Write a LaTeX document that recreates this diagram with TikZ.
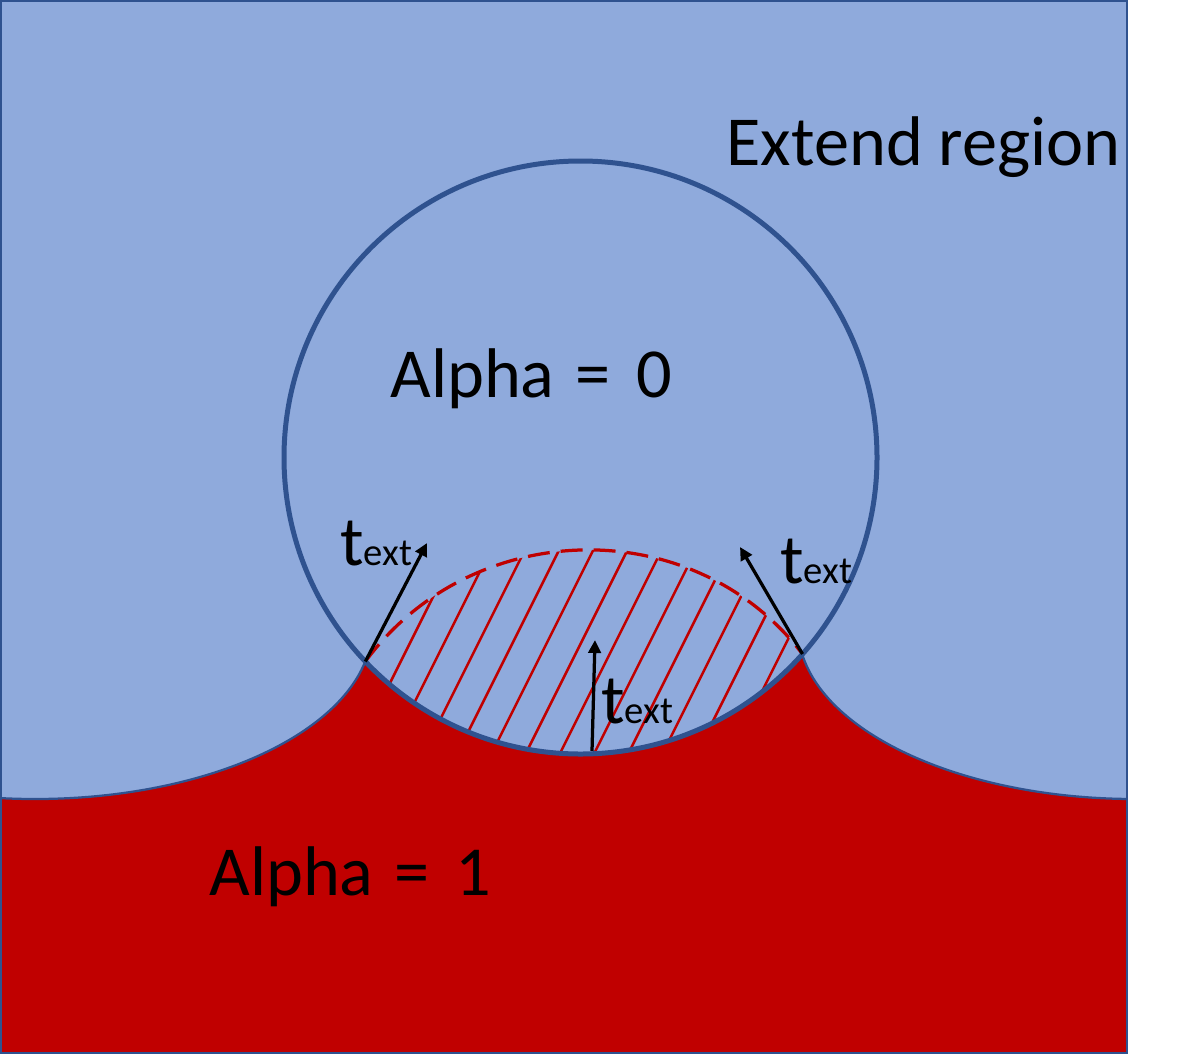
\documentclass[tikz,border=0pt]{standalone}
\usepackage{fontspec}
\setmainfont{Carlito}
\usetikzlibrary{arrows.meta}
\definecolor{bgblue}{HTML}{8FAADC}
\definecolor{edgeblue}{HTML}{2F528F}
\definecolor{alphared}{HTML}{C00000}
\begin{document}
\begin{tikzpicture}[x=0.02cm,y=-0.02cm,
  bigtext/.style={anchor=base west, inner sep=0pt, text=black, font=\fontsize{40}{48}\selectfont},
  vec/.style={black, line width=0.065cm, -{Triangle[length=0.26cm,width=0.25cm]}},
  hatchline/.style={alphared, line width=0.05cm},
  dashedarc/.style={alphared, line width=0.065cm, dash pattern=on 0.44cm off 0.22cm},
  thinedge/.style={edgeblue, line width=0.045cm},
  circedge/.style={edgeblue, line width=0.1cm}
]
\useasboundingbox (0,0) rectangle (1202,1055);
\newcommand{\extsub}{{\fontsize{22}{26}\selectfont ext}}

% key points
\coordinate (C) at (580.5,457.5);
\coordinate (L) at (365.3,661.5);
\coordinate (R) at (802.5,654);
\coordinate (EL) at (35,627);
\coordinate (ER) at (1135,627);
\coordinate (Lt) at (427,543);
\coordinate (Rt) at (740,547);
\coordinate (Mb) at (592,751);
\coordinate (Mt) at (595,640);

% background
\fill[bgblue] (1,1) rectangle (1127,1053);

\begin{scope}
  \clip (1,1) rectangle (1127,1053);
  % red region
  \fill[alphared] (0,627) rectangle (1128,1054);
  \fill[bgblue] (EL) ellipse [x radius=337, y radius=172];
  \fill[bgblue] (ER) ellipse [x radius=337, y radius=172];
  \begin{scope}
    \clip (0,627) rectangle (1128,1054);
    \draw[thinedge] (EL) ellipse [x radius=337, y radius=172];
    \draw[thinedge] (ER) ellipse [x radius=337, y radius=172];
  \end{scope}
  % circle interior
  \fill[bgblue] (C) circle [radius=296.5];
\end{scope}

% hatching
\begin{scope}
  \clip (C) circle [radius=296.5];
  \clip (L) .. controls (472,517) and (693,511) .. (R) -- (900,800) -- (300,800) -- cycle;
  \foreach \k in {0,...,11}{
    \draw[hatchline] ({406.5+34.2*\k-60},770) -- ({406.5+34.2*\k+60},530);
  }
\end{scope}

% dashed boundary
\draw[dashedarc] (L) .. controls (472,517) and (693,511) .. (R);

% circle outline
\draw[circedge] (C) circle [radius=296.5];

% vectors
\draw[vec] (L) -- (Lt);
\draw[vec] (R) -- (Rt);
\draw[vec] (Mb) -- (Mt);

% labels
\node[bigtext] (extend) at (726,165) {Extend region};
\node[bigtext] (alpha0) at (390,397) {Alpha\hspace{0.1cm} = \hspace{0.2cm}0};
\node[bigtext] (alpha1) at (209,895) {Alpha\hspace{0.1cm} = \hspace{0.2cm}1};
\node[bigtext] (tl) at (340,565) {t\extsub};
\node[bigtext] (tr) at (780,583) {t\extsub};
\node[bigtext] (tm) at (601,723) {t\extsub};

% frame
\draw[thinedge] (1,1) rectangle (1127,1053);
\end{tikzpicture}
\end{document}
